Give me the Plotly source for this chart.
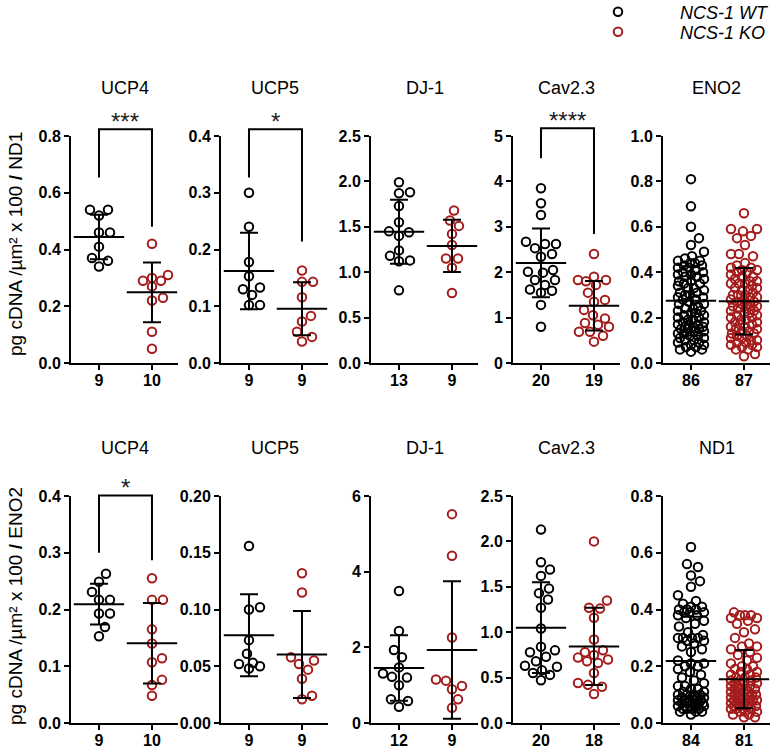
import numpy as np
import plotly.graph_objects as go

# ---------------- data ----------------
top_titles = ["UCP4", "UCP5", "DJ-1", "Cav2.3", "ENO2"]
bottom_titles = ["UCP4", "UCP5", "DJ-1", "Cav2.3", "ND1"]

top_ucp4_wt = [0.54, 0.54, 0.52, 0.46, 0.46, 0.41, 0.37, 0.36, 0.34]
top_ucp4_ko = [0.42, 0.31, 0.30, 0.29, 0.29, 0.27, 0.23, 0.22, 0.11, 0.05]
top_ucp5_wt = [0.30, 0.24, 0.178, 0.153, 0.133, 0.130, 0.120, 0.102, 0.102]
top_ucp5_ko = [0.163, 0.143, 0.143, 0.116, 0.083, 0.073, 0.055, 0.046, 0.038]
top_dj1_wt = [1.99, 1.88, 1.87, 1.73, 1.55, 1.45, 1.44, 1.40, 1.24, 1.18, 1.13, 1.12, 0.80]
top_dj1_ko = [1.68, 1.57, 1.51, 1.42, 1.30, 1.15, 1.15, 1.05, 0.77]
top_cav_wt = [3.85, 3.52, 3.26, 2.67, 2.62, 2.62, 2.53, 2.40, 2.34, 2.05, 2.01, 1.99,
              1.83, 1.83, 1.72, 1.62, 1.59, 1.55, 1.28, 0.80]
top_cav_ko = [2.40, 1.90, 1.83, 1.83, 1.80, 1.72, 1.55, 1.39, 1.35, 1.17, 1.05, 0.98,
              0.88, 0.84, 0.80, 0.69, 0.69, 0.60, 0.47]
top_eno2_wt = [0.81, 0.69, 0.60, 0.55, 0.52, 0.49,
               0.47, 0.46, 0.45, 0.45, 0.44, 0.44, 0.43, 0.43, 0.42, 0.42,
               0.41, 0.40, 0.40, 0.39, 0.38, 0.38, 0.37, 0.36, 0.36, 0.35,
               0.34, 0.33, 0.32, 0.31, 0.30, 0.30, 0.29, 0.29, 0.28, 0.28,
               0.27, 0.26, 0.25, 0.24, 0.23, 0.23, 0.22, 0.22, 0.21, 0.21,
               0.20, 0.20, 0.19, 0.19, 0.18, 0.18, 0.17, 0.17, 0.17, 0.16,
               0.16, 0.16, 0.15, 0.15, 0.15, 0.14, 0.14, 0.13, 0.13, 0.12,
               0.12, 0.11, 0.11, 0.10, 0.10, 0.09, 0.09, 0.08, 0.08, 0.07,
               0.07, 0.06, 0.06, 0.05, 0.24, 0.26, 0.31, 0.33, 0.35, 0.39]
top_eno2_ko = [0.66, 0.59, 0.59, 0.58, 0.56, 0.55, 0.52, 0.48, 0.48, 0.47, 0.44, 0.43,
               0.42, 0.42, 0.41, 0.41, 0.40, 0.40, 0.39, 0.38, 0.38, 0.37,
               0.36, 0.36, 0.35, 0.35, 0.34, 0.33, 0.33, 0.32, 0.32, 0.31,
               0.30, 0.30, 0.29, 0.29, 0.28, 0.28, 0.27, 0.27, 0.26, 0.26,
               0.25, 0.25, 0.24, 0.24, 0.23, 0.23, 0.22, 0.22, 0.21, 0.21,
               0.20, 0.20, 0.19, 0.19, 0.18, 0.18, 0.17, 0.17, 0.16, 0.16,
               0.15, 0.15, 0.14, 0.14, 0.13, 0.13, 0.12, 0.12, 0.11, 0.11,
               0.10, 0.10, 0.09, 0.09, 0.08, 0.08, 0.07, 0.07, 0.06, 0.06,
               0.35, 0.30, 0.25, 0.04, 0.03]

bot_ucp4_wt = [0.263, 0.249, 0.231, 0.217, 0.217, 0.193, 0.193, 0.169, 0.153]
bot_ucp4_ko = [0.255, 0.217, 0.217, 0.165, 0.140, 0.114, 0.107, 0.076, 0.067, 0.048]
bot_ucp5_wt = [0.156, 0.102, 0.100, 0.073, 0.061, 0.053, 0.052, 0.050, 0.048]
bot_ucp5_ko = [0.132, 0.115, 0.058, 0.055, 0.052, 0.047, 0.039, 0.024, 0.021]
bot_dj1_wt = [3.49, 2.43, 1.93, 1.74, 1.47, 1.31, 1.22, 1.20, 1.00, 0.63, 0.58, 0.43]
bot_dj1_ko = [5.52, 4.42, 2.26, 1.15, 1.12, 0.98, 0.89, 0.63, 0.40]
bot_cav_wt = [2.13, 1.77, 1.69, 1.62, 1.48, 1.43, 1.36, 1.27, 1.04, 0.84, 0.80, 0.78,
              0.73, 0.68, 0.63, 0.62, 0.58, 0.55, 0.53, 0.47]
bot_cav_ko = [2.00, 1.35, 1.27, 1.26, 1.16, 0.92, 0.80, 0.78, 0.75, 0.72, 0.70, 0.68,
              0.66, 0.55, 0.44, 0.42, 0.40, 0.32]
bot_nd1_wt = [0.62, 0.56, 0.55, 0.52, 0.50, 0.48, 0.45, 0.43, 0.42,
              0.41, 0.41, 0.40, 0.40, 0.40, 0.39, 0.39, 0.39, 0.38, 0.38,
              0.37, 0.36, 0.35, 0.34, 0.32, 0.31, 0.30, 0.30, 0.30, 0.30,
              0.29, 0.29, 0.28, 0.27, 0.26, 0.25, 0.22, 0.21, 0.21, 0.20,
              0.20, 0.19, 0.18, 0.17, 0.16, 0.15, 0.14, 0.13, 0.13, 0.12,
              0.12, 0.11, 0.11, 0.10, 0.10, 0.10, 0.09, 0.09, 0.09, 0.09,
              0.08, 0.08, 0.08, 0.08, 0.08, 0.07, 0.07, 0.07, 0.07, 0.07,
              0.07, 0.06, 0.06, 0.06, 0.06, 0.06, 0.05, 0.05, 0.05, 0.05,
              0.04, 0.04, 0.04, 0.03, 0.10]
bot_nd1_ko = [0.39, 0.38, 0.38, 0.38, 0.37, 0.37, 0.36, 0.35, 0.33, 0.32,
              0.30, 0.28, 0.27, 0.27, 0.26, 0.25, 0.24, 0.23, 0.22, 0.21,
              0.20, 0.20, 0.19, 0.19, 0.18, 0.18, 0.17, 0.17, 0.16, 0.16,
              0.15, 0.15, 0.14, 0.14, 0.14, 0.13, 0.13, 0.12, 0.12, 0.12,
              0.11, 0.11, 0.11, 0.10, 0.10, 0.10, 0.10, 0.09, 0.09, 0.09,
              0.09, 0.08, 0.08, 0.08, 0.08, 0.07, 0.07, 0.07, 0.07, 0.06,
              0.06, 0.06, 0.06, 0.05, 0.05, 0.05, 0.05, 0.04, 0.04, 0.04,
              0.03, 0.03, 0.02, 0.02, 0.15, 0.16, 0.13, 0.11, 0.12, 0.10, 0.08]

wt_groups = [top_ucp4_wt, top_ucp5_wt, top_dj1_wt, top_cav_wt, top_eno2_wt,
             bot_ucp4_wt, bot_ucp5_wt, bot_dj1_wt, bot_cav_wt, bot_nd1_wt]
ko_groups = [top_ucp4_ko, top_ucp5_ko, top_dj1_ko, top_cav_ko, top_eno2_ko,
             bot_ucp4_ko, bot_ucp5_ko, bot_dj1_ko, bot_cav_ko, bot_nd1_ko]
panel_titles = top_titles + bottom_titles

y_max = [0.8, 0.4, 2.5, 5, 1.0, 0.4, 0.20, 6, 2.5, 0.8]
y_dtick = [0.2, 0.1, 0.5, 1, 0.2, 0.1, 0.05, 2, 0.5, 0.2]
y_fmt = [".1f", ".1f", ".1f", "d", ".1f", ".1f", ".2f", "d", ".1f", ".1f"]

# significance brackets: panel, label, top, left-leg end, right-leg end
sig_panel = [0, 1, 3, 5]
sig_label = ["***", "*", "****", "*"]
sig_top = [0.824, 0.412, 5.17, 0.401]
sig_left = [0.654, 0.327, 4.51, 0.300]
sig_right = [0.48, 0.214, 2.84, 0.287]

y_titles = ["pg cDNA /µm² x 100 <b>/</b> ND1", "pg cDNA /µm² x 100 <b>/</b> ENO2"]
legend_names = ["<i>NCS-1 WT</i>", "<i>NCS-1 KO</i>"]

# ---------------- layout geometry ----------------
W, H = 777, 749
AX_LEFT = [71, 221, 371, 513, 663]
PANEL_W = 107
ROW_ZERO = [363, 723]
ROW_TOP = [136, 496]
XR = [-0.528, 1.491]
PX_PER_X = PANEL_W / (XR[1] - XR[0])
WT_COLOR = "black"
KO_COLOR = "#A51C1C"
FONT = "Liberation Sans"


def fx(px):
    return px / W


def fy(py):
    return 1 - py / H


def swarm(vals, px_per_y, diam=10.5, max_off=14.0, step=1.0):
    v = np.asarray(vals, float) * px_per_y
    order = np.argsort(v)
    cands = [0.0]
    k = 1
    while k * step <= max_off + 1e-9:
        cands += [k * step, -k * step]
        k += 1
    placed = []
    offs = np.zeros(len(v))
    for i in order:
        y = v[i]
        best, bestd = 0.0, -1.0
        for c in cands:
            if placed:
                P = np.array(placed)
                d = float(np.min(np.hypot(P[:, 0] - c, P[:, 1] - y)))
            else:
                d = np.inf
            if d >= diam:
                best = c
                break
            if d > bestd:
                bestd, best = d, c
        offs[i] = best
        placed.append((best, y))
    return offs / PX_PER_X


fig = go.Figure()
layout = {}
annotations = []
TICKFONT = dict(family=FONT, size=16, color="black", weight="bold")

for k in range(10):
    row, col = divmod(k, 5)
    n = k + 1
    xname = "xaxis" if n == 1 else f"xaxis{n}"
    yname = "yaxis" if n == 1 else f"yaxis{n}"
    xr = "x" if n == 1 else f"x{n}"
    yr = "y" if n == 1 else f"y{n}"
    hpx = ROW_ZERO[row] - ROW_TOP[row]
    xd = [fx(AX_LEFT[col]), fx(AX_LEFT[col] + PANEL_W)]
    yd = [fy(ROW_ZERO[row]), fy(ROW_TOP[row])]
    wt, ko = wt_groups[k], ko_groups[k]
    ppy = hpx / y_max[k]
    dense = len(wt) > 40
    mo = 13.0 if dense else 16.0

    layout[xname] = dict(domain=xd, range=XR, anchor=yr, showline=True, linecolor="black",
                         linewidth=2, ticks="outside", ticklen=5, tickwidth=2, tickcolor="black",
                         tickvals=[0, 1], ticktext=[str(len(wt)), str(len(ko))],
                         tickfont=TICKFONT, ticklabelstandoff=-3,
                         showgrid=False, zeroline=False, fixedrange=True, automargin=False)
    layout[yname] = dict(domain=yd, range=[0, y_max[k]], anchor=xr, showline=True,
                         linecolor="black", linewidth=2, ticks="outside", ticklen=5,
                         tickwidth=2, tickcolor="black", tickmode="linear", tick0=0,
                         dtick=y_dtick[k], tickformat=y_fmt[k], tickfont=TICKFONT,
                         showgrid=False, zeroline=False, fixedrange=True, automargin=False)

    for grp, xc, color in ((wt, 0, WT_COLOR), (ko, 1, KO_COLOR)):
        xs = xc + swarm(grp, ppy, max_off=mo)
        fig.add_trace(go.Scatter(x=xs, y=grp, mode="markers", xaxis=xr, yaxis=yr,
                                 cliponaxis=False, showlegend=False, hoverinfo="y",
                                 marker=dict(symbol="circle-open", size=8.5, color=color,
                                             line=dict(width=2, color=color))))
    for grp, xc in ((wt, 0), (ko, 1)):
        m = float(np.mean(grp))
        s = float(np.std(grp, ddof=1))
        fig.add_trace(go.Scatter(x=[xc], y=[m], mode="markers", xaxis=xr, yaxis=yr,
                                 cliponaxis=False, showlegend=False, hoverinfo="y",
                                 marker=dict(symbol="line-ew", size=36, color="black",
                                             line=dict(width=2, color="black")),
                                 error_y=dict(type="data", array=[s], symmetric=True,
                                              width=9, thickness=2, color="black")))

    # panel title
    annotations.append(dict(text=panel_titles[k], xref="paper", yref="paper",
                            x=(xd[0] + xd[1]) / 2, y=fy(ROW_TOP[row] - 48),
                            xanchor="center", yanchor="middle", showarrow=False,
                            font=dict(family=FONT, size=18, color="black")))

# significance brackets on invisible, upward-extended axes
EXT = 40
for j, p in enumerate(sig_panel):
    row, col = divmod(p, 5)
    hpx = ROW_ZERO[row] - ROW_TOP[row]
    bn = 11 + j
    xr, yr = f"x{bn}", f"y{bn}"
    layout[f"xaxis{bn}"] = dict(domain=[fx(AX_LEFT[col]), fx(AX_LEFT[col] + PANEL_W)],
                                range=XR, anchor=yr, visible=False, fixedrange=True)
    layout[f"yaxis{bn}"] = dict(domain=[fy(ROW_ZERO[row]), fy(ROW_TOP[row] - EXT)],
                                range=[0, y_max[p] * (hpx + EXT) / hpx], anchor=xr,
                                visible=False, fixedrange=True)
    fig.add_trace(go.Scatter(x=[0, 0, 1, 1],
                             y=[sig_left[j], sig_top[j], sig_top[j], sig_right[j]],
                             mode="lines", xaxis=xr, yaxis=yr, showlegend=False,
                             hoverinfo="skip", line=dict(color="black", width=2)))
    annotations.append(dict(text=sig_label[j], xref=xr, yref=yr, x=0.5, y=sig_top[j],
                            xanchor="center", yanchor="middle", showarrow=False, yshift=8,
                            font=dict(family=FONT, size=24, color="#222222")))

# y-axis titles
for row in range(2):
    cy = [244, 606][row]
    annotations.append(dict(text=y_titles[row], xref="paper", yref="paper", x=fx(15),
                            y=fy(cy), xanchor="center", yanchor="middle", textangle=-90,
                            showarrow=False, font=dict(family=FONT, size=19, color="black")))

# legend entries (one legend per row)
for name, color, lg in zip(legend_names, (WT_COLOR, KO_COLOR), ("legend", "legend2")):
    fig.add_trace(go.Scatter(x=[None], y=[None], mode="markers", name=name,
                             xaxis="x", yaxis="y", showlegend=True, legend=lg,
                             marker=dict(symbol="circle-open", size=8.5, color=color,
                                         line=dict(width=2, color=color))))

LEG = dict(x=fx(556), xanchor="left", yanchor="middle",
           font=dict(family=FONT, size=18, color="black"),
           itemwidth=114, bgcolor="rgba(0,0,0,0)")

fig.update_layout(**layout)
fig.update_layout(
    width=W, height=H, margin=dict(l=0, r=0, t=0, b=0, autoexpand=False),
    plot_bgcolor="rgba(0,0,0,0)", paper_bgcolor="white",
    annotations=annotations, showlegend=True,
    legend=dict(y=fy(12), **LEG),
    legend2=dict(y=fy(32), **LEG),
)

fig.write_html("out.html", config={"displayModeBar": False},
               post_script="document.body.style.margin='0';")
